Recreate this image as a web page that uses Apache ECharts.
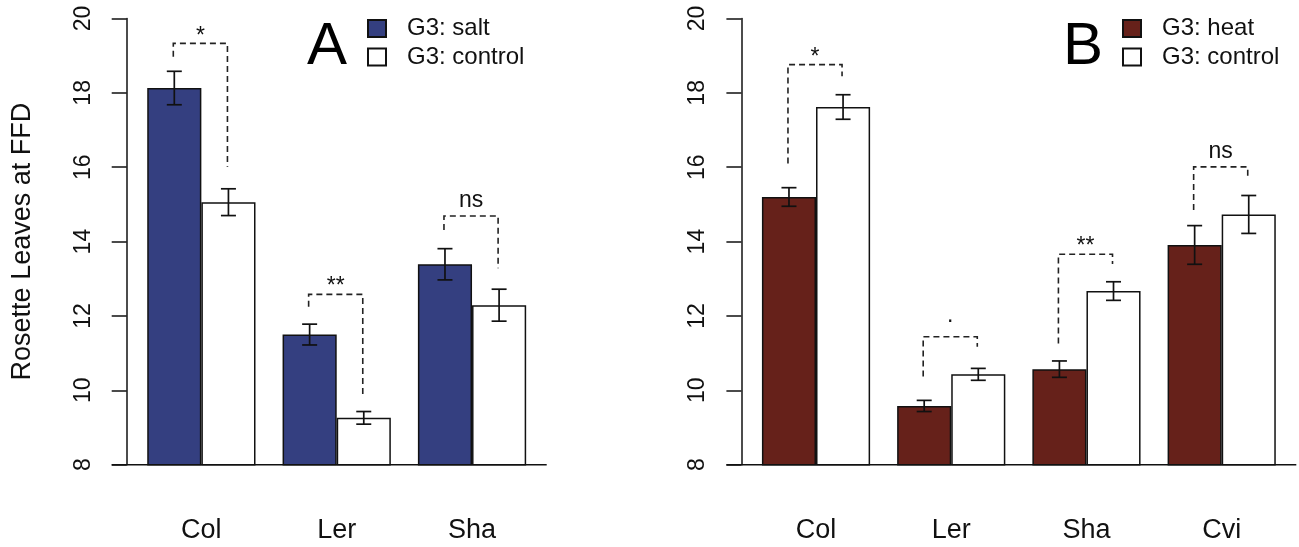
<!DOCTYPE html>
<html>
<head>
<meta charset="utf-8">
<script src="https://cdn.jsdelivr.net/npm/echarts@6/dist/echarts.min.js"></script>
<style>
html,body{margin:0;padding:0;background:#fff;}
#main{width:1299px;height:547px;}
</style>
</head>
<body>
<div id="main"></div>
<script>
// ---- Data ----
const cultivarsA = ['Col', 'Ler', 'Sha'];
const saltMean = [18.13, 11.50, 13.39];
const saltErr = [0.45, 0.28, 0.42];
const controlAMean = [15.06, 9.26, 12.29];
const controlAErr = [0.36, 0.17, 0.43];
const sigA = ['*', '**', 'ns'];
const bracketALeft = [18.97, 12.25, 14.31];
const bracketATop = [19.33, 12.58, 14.69];
const bracketARight = [16.01, 9.87, 13.28];

const cultivarsB = ['Col', 'Ler', 'Sha', 'Cvi'];
const heatMean = [15.20, 9.58, 10.57, 13.91];
const heatErr = [0.25, 0.15, 0.22, 0.52];
const controlBMean = [17.62, 10.43, 12.67, 14.73];
const controlBErr = [0.33, 0.16, 0.25, 0.51];
const sigB = ['*', '.', '**', 'ns'];
const bracketBLeft = [16.10, 10.37, 11.26, 14.85];
const bracketBTop = [18.76, 11.44, 13.66, 16.01];
const bracketBRight = [18.45, 11.17, 13.40, 15.74];

const yTicks = [8, 10, 12, 14, 16, 18, 20];
const yTitle = 'Rosette Leaves at FFD';

// ---- Styles ----
const FONT = 'Liberation Sans, Arial, Helvetica, sans-serif';
const INK = '#111';
const SALT = '#343f80';
const HEAT = '#66211a';
const BAR_FRAC = 0.8; // 1 - barCategoryGap

const chart = echarts.init(document.getElementById('main'), null, {renderer: 'canvas'});

function errRender(side) {
  return function (params, api) {
    const idx = api.value(0), m = api.value(1), e = api.value(2);
    const c = api.coord([idx, m]);
    const band = api.size([1, 0])[0];
    const bw = band * BAR_FRAC / 2;
    const x = c[0] + side * bw / 2;
    const yt = api.coord([idx, m + e])[1];
    const yb = api.coord([idx, m - e])[1];
    const cap = 7.5;
    const st = {stroke: INK, lineWidth: 1.7};
    return {type: 'group', children: [
      {type: 'line', shape: {x1: x, y1: yt, x2: x, y2: yb}, style: st},
      {type: 'line', shape: {x1: x - cap, y1: yt, x2: x + cap, y2: yt}, style: st},
      {type: 'line', shape: {x1: x - cap, y1: yb, x2: x + cap, y2: yb}, style: st}
    ]};
  };
}

const labelShift = {'*': 7, '**': 7.5, 'ns': 15, '.': 21};
function bracketRender(labels) {
  return function (params, api) {
    const idx = api.value(0);
    const band = api.size([1, 0])[0];
    const bw = band * BAR_FRAC / 2;
    const cx = api.coord([idx, api.value(2)])[0];
    const xl = cx - bw / 2 - 1, xr = cx + bw / 2 - 1;
    const yl = api.coord([idx, api.value(1)])[1];
    const yt = api.coord([idx, api.value(2)])[1];
    const yr = api.coord([idx, api.value(3)])[1];
    const lab = labels[params.dataIndex];
    return {type: 'group', children: [
      {type: 'polyline', shape: {points: [[xl, yl], [xl, yt], [xr, yt], [xr, yr]]},
        style: {stroke: '#222', lineWidth: 1.6, lineDash: [6, 4], fill: null}},
      {type: 'text', x: (xl + xr) / 2, y: yt - labelShift[lab],
        style: {text: lab, fill: INK, font: '23px ' + FONT, align: 'center', verticalAlign: 'middle'}}
    ]};
  };
}

function baselineRender(params, api) {
  const cs = params.coordSys;
  const y = api.coord([0, api.value(1)])[1];
  return {type: 'line', shape: {x1: cs.x - 22, y1: y, x2: cs.x + cs.width + 7, y2: y},
    style: {stroke: INK, lineWidth: 1.5}};
}

function yAxisCfg(gridIndex, withName) {
  return {
    type: 'value', gridIndex: gridIndex, min: yTicks[0], max: yTicks[yTicks.length - 1], interval: 2,
    offset: 7,
    axisLine: {show: true, lineStyle: {color: INK, width: 1.5}},
    axisTick: {show: true, length: 15, lineStyle: {color: INK, width: 1.5}},
    splitLine: {show: false},
    axisLabel: {rotate: 90, margin: 32, fontSize: 23, color: INK, fontFamily: FONT},
    name: withName ? yTitle : '',
    nameLocation: 'middle', nameRotate: 90, nameGap: 91,
    nameTextStyle: {fontSize: 27, color: INK, fontFamily: FONT}
  };
}

function xAxisCfg(gridIndex, cats) {
  return {
    type: 'category', gridIndex: gridIndex, data: cats,
    axisLine: {show: false}, axisTick: {show: false},
    axisLabel: {fontSize: 27, color: INK, fontFamily: FONT, margin: 52}
  };
}

const barBorder = {borderColor: INK, borderWidth: 1.5};

const option = {
  backgroundColor: '#fff',
  animation: false,
  textStyle: {fontFamily: FONT},
  title: [
    {text: 'A', left: 307, top: 17, padding: 0, textStyle: {fontSize: 60, fontWeight: 'normal', color: '#000', fontFamily: FONT}},
    {text: 'B', left: 1063, top: 17, padding: 0, textStyle: {fontSize: 60, fontWeight: 'normal', color: '#000', fontFamily: FONT}}
  ],
  legend: [
    {data: ['G3: salt', 'G3: control'], orient: 'vertical', left: 367, top: 16.5, padding: 0,
      itemWidth: 18, itemHeight: 17, itemGap: 4.4, icon: 'rect', selectedMode: false,
      textStyle: {fontSize: 24, lineHeight: 24, color: INK, fontFamily: FONT, padding: [0, 0, 0, 16]}},
    {data: ['G3: heat', 'G3: control'], orient: 'vertical', left: 1122, top: 16.5, padding: 0,
      itemWidth: 18, itemHeight: 17, itemGap: 4.4, icon: 'rect', selectedMode: false,
      textStyle: {fontSize: 24, lineHeight: 24, color: INK, fontFamily: FONT, padding: [0, 0, 0, 16]}}
  ],
  grid: [
    {left: 133.7, top: 18.5, width: 406, height: 446.2},
    {left: 748.4, top: 18.5, width: 540.9, height: 446.2}
  ],
  xAxis: [xAxisCfg(0, cultivarsA), xAxisCfg(1, cultivarsB)],
  yAxis: [yAxisCfg(0, true), yAxisCfg(1, false)],
  series: [
    {name: 'G3: salt', type: 'bar', xAxisIndex: 0, yAxisIndex: 0, data: saltMean,
      barGap: '0%', barCategoryGap: '20%', itemStyle: Object.assign({color: SALT}, barBorder)},
    {name: 'G3: control', type: 'bar', xAxisIndex: 0, yAxisIndex: 0, data: controlAMean,
      barGap: '0%', barCategoryGap: '20%', itemStyle: Object.assign({color: '#fff'}, barBorder)},
    {name: 'G3: heat', type: 'bar', xAxisIndex: 1, yAxisIndex: 1, data: heatMean,
      barGap: '0%', barCategoryGap: '20%', itemStyle: Object.assign({color: HEAT}, barBorder)},
    {name: 'G3: control', type: 'bar', xAxisIndex: 1, yAxisIndex: 1, data: controlBMean,
      barGap: '0%', barCategoryGap: '20%', itemStyle: Object.assign({color: '#fff'}, barBorder)},
    {type: 'custom', xAxisIndex: 0, yAxisIndex: 0, renderItem: errRender(-1), clip: false, z: 5,
      data: cultivarsA.map((c, i) => [i, saltMean[i], saltErr[i]])},
    {type: 'custom', xAxisIndex: 0, yAxisIndex: 0, renderItem: errRender(1), clip: false, z: 5,
      data: cultivarsA.map((c, i) => [i, controlAMean[i], controlAErr[i]])},
    {type: 'custom', xAxisIndex: 1, yAxisIndex: 1, renderItem: errRender(-1), clip: false, z: 5,
      data: cultivarsB.map((c, i) => [i, heatMean[i], heatErr[i]])},
    {type: 'custom', xAxisIndex: 1, yAxisIndex: 1, renderItem: errRender(1), clip: false, z: 5,
      data: cultivarsB.map((c, i) => [i, controlBMean[i], controlBErr[i]])},
    {type: 'custom', xAxisIndex: 0, yAxisIndex: 0, renderItem: bracketRender(sigA), clip: false, z: 5,
      data: cultivarsA.map((c, i) => [i, bracketALeft[i], bracketATop[i], bracketARight[i]])},
    {type: 'custom', xAxisIndex: 1, yAxisIndex: 1, renderItem: bracketRender(sigB), clip: false, z: 5,
      data: cultivarsB.map((c, i) => [i, bracketBLeft[i], bracketBTop[i], bracketBRight[i]])},
    {type: 'custom', xAxisIndex: 0, yAxisIndex: 0, renderItem: baselineRender, clip: false, z: 6,
      data: [[0, yTicks[0]]]},
    {type: 'custom', xAxisIndex: 1, yAxisIndex: 1, renderItem: baselineRender, clip: false, z: 6,
      data: [[0, yTicks[0]]]}
  ]
};
chart.setOption(option);
</script>
</body>
</html>
